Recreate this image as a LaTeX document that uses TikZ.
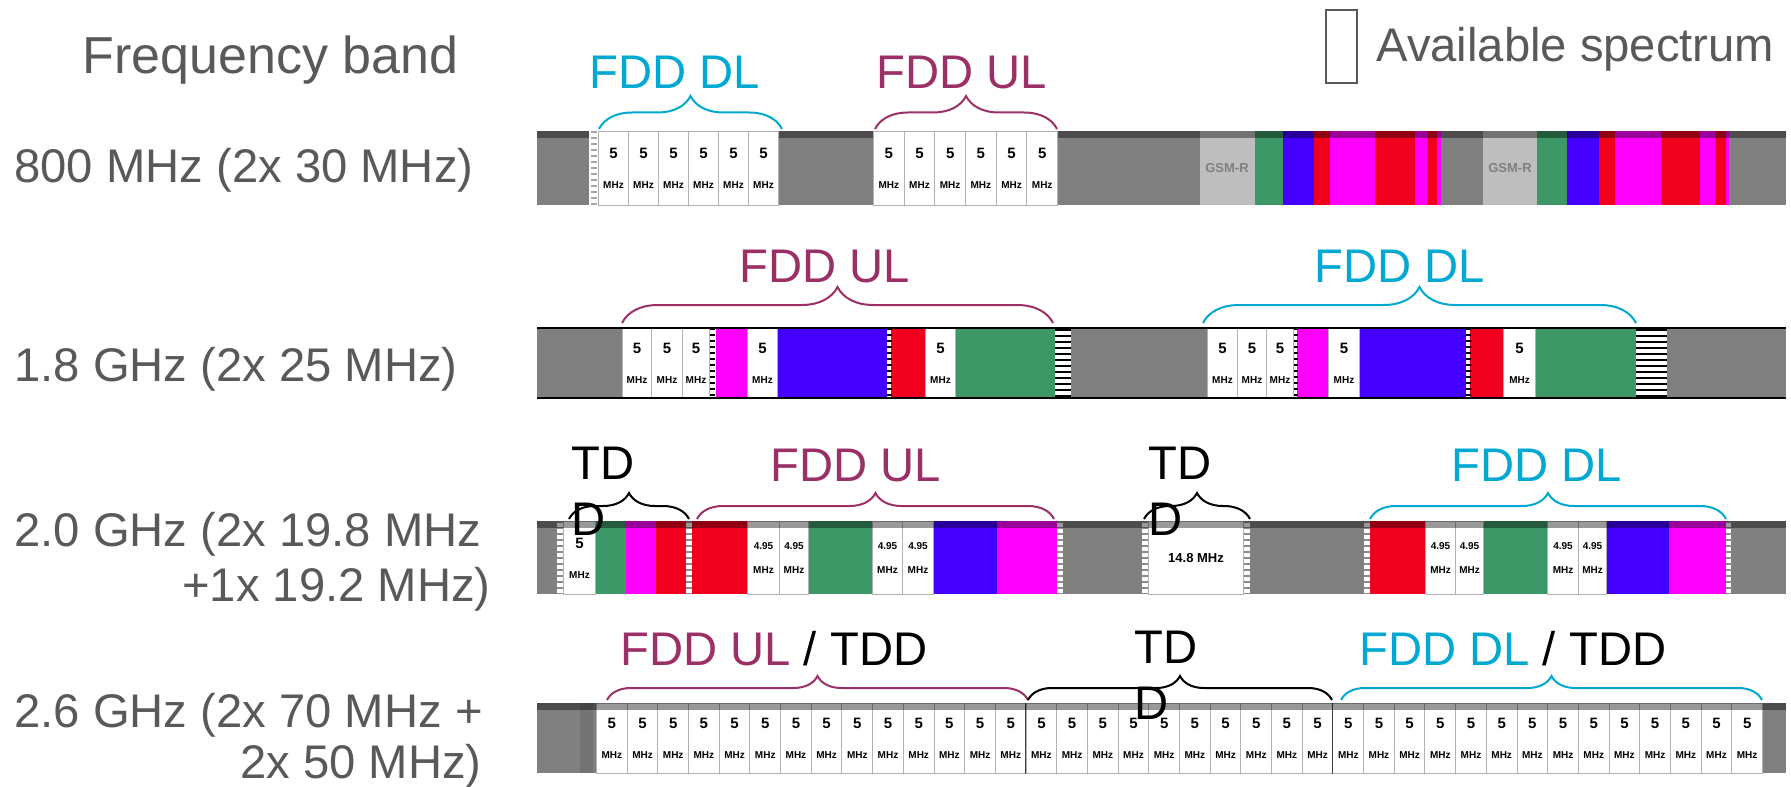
\documentclass[tikz,border=0pt]{standalone}
\usepackage{fontspec}
\setmainfont{Liberation Sans}
\usetikzlibrary{decorations.pathreplacing}
\colorlet{ctext}{black!65}
\definecolor{cdl}{RGB}{0,168,210}
\definecolor{cul}{RGB}{155,48,102}
\definecolor{cbar}{RGB}{128,128,128}
\definecolor{cgsm}{RGB}{190,190,190}
\definecolor{cgreen}{RGB}{60,152,102}
\definecolor{cblue}{RGB}{68,0,255}
\definecolor{cred}{RGB}{240,0,28}
\definecolor{cmag}{RGB}{255,0,255}
\newcommand{\mhz}[1]{{\fontsize{7.5}{8}\selectfont #1}\\[9pt]MHz}
\tikzset{
  bandlabel/.style={font=\fontsize{23.6}{28}\selectfont, text=ctext, anchor=base west, inner sep=0pt},
  blocklabel/.style={font=\fontsize{23.6}{28}\selectfont, text=#1, anchor=base, inner sep=0pt},
  tddlabel/.style={font=\fontsize{23.6}{28}\selectfont, align=left, inner sep=0pt},
  brace/.style={decorate, decoration={brace, amplitude=#1}, line width=1pt},
  cell/.style={draw=black!30, line width=0.5pt, fill=white, inner sep=0pt, anchor=north west,
               font=\fontsize{5}{6}\selectfont\bfseries, align=center},
  gsm/.style={font=\fontsize{6.5}{7}\selectfont\bfseries, text=black!50, inner sep=0pt},
  ticks/.style={line width=#1, dash pattern=on 0.8pt off 2.2pt},
  rim/.style={fill=black, fill opacity=0.4},
}
\begin{document}
\begin{tikzpicture}[x=0.5pt, y=-0.5pt]
\useasboundingbox (0,0) rectangle (1791,786);

\node[bandlabel, font=\fontsize{26}{30}\selectfont] (fband) at (82,74) {Frequency band};
\node[draw=ctext, line width=1pt, minimum width=15.5pt, minimum height=36.5pt, anchor=north west,
      inner sep=0pt] (legbox) at (1325,9) {};
\node[bandlabel] (legtext) at (1376,62) {Available spectrum};

\node[bandlabel] (b800) at (14,183) {800 MHz (2x 30 MHz)};
\node[bandlabel] (b1800) at (14,381) {1.8 GHz (2x 25 MHz)};
\node[bandlabel] (b2000) at (14,546) {2.0 GHz (2x 19.8 MHz};
\node[bandlabel, anchor=base east] (b2000b) at (491,601) {+1x 19.2 MHz)};
\node[bandlabel] (b2600) at (14,727) {2.6 GHz (2x 70 MHz +};
\node[bandlabel] (b2600b) at (240,778) {2x 50 MHz)};

% 800 MHz
\fill[cbar] (537,131) rectangle (1786,205);
\foreach \a/\b/\c in {1200/1255/cgsm, 1255/1283/cgreen, 1283/1314/cblue, 1314/1330/cred, 1330/1375/cmag,
    1375/1415/cred, 1415/1427/cmag, 1427/1437/cred, 1437/1441/cmag, 1483/1537/cgsm, 1537/1567/cgreen,
    1567/1599/cblue, 1599/1615/cred, 1615/1661/cmag, 1661/1700/cred, 1700/1715/cmag, 1715/1726/cred, 1726/1729/cmag}
  \fill[\c] (\a,131) rectangle (\b,205);
\fill[rim] (537,131) rectangle (1786,138);
\fill[white] (589,131) rectangle (598,205);
\draw[ticks=3pt, black!35] (593.5,131) -- (593.5,205);
\foreach \i in {0,...,5} {
  \node[cell, minimum width=15pt, minimum height=37pt] (c1a-\i) at ({598+30*\i},131) {\mhz{5}};
  \node[cell, minimum width=15.33pt, minimum height=37pt] (c1b-\i) at ({873+30.67*\i},131) {\mhz{5}};
}
\node[gsm] (gsm1) at (1227,168) {GSM-R};
\node[gsm] (gsm2) at (1510,168) {GSM-R};

% 1.8 GHz
\fill[cbar] (537,328) rectangle (1786,398);
\foreach \a/\b/\c in {716/747/cmag, 777/887/cblue, 891/925/cred, 955/1055/cgreen,
    1297/1328/cmag, 1359/1466/cblue, 1470/1503/cred, 1535/1636/cgreen}
  \fill[\c] (\a,328) rectangle (\b,398);
\foreach \a/\b in {709/716, 887/891, 1293/1297, 1466/1470} {
  \fill[white] (\a,328) rectangle (\b,398);
  \draw[ticks=2.5pt, black] ({(\a+\b)/2},328) -- ({(\a+\b)/2},398);
}
\foreach \a/\b in {1055/1071, 1636/1667} {
  \fill[white] (\a,328) rectangle (\b,398);
  \draw[line width={(\b-\a)*0.5pt}, dash pattern=on 1.2pt off 1.8pt] ({(\a+\b)/2},329) -- ({(\a+\b)/2},398);
}
\foreach \a/\b [count=\i] in {622/651, 651/682, 682/709, 747/777, 925/955, 1207/1237, 1237/1266, 1266/1293, 1328/1359, 1503/1535}
  \node[cell, minimum width={(\b-\a)*0.5pt}, minimum height=35pt] (c2-\i) at (\a,328) {\mhz{5}};
\draw[line width=1.2pt] (537,328) -- (1786,328) (537,398) -- (1786,398);

% 2.0 GHz
\fill[cbar] (537,521) rectangle (1786,594);
\foreach \a/\b/\c in {595/626/cgreen, 626/656/cmag, 656/686/cred, 692/747/cred, 808/872/cgreen, 933/997/cblue,
    997/1057/cmag, 1370/1425/cred, 1483/1547/cgreen, 1606/1669/cblue, 1669/1726/cmag}
  \fill[\c] (\a,521) rectangle (\b,594);
\foreach \a/\b in {557/563, 686/692, 1057/1063, 1142/1148, 1243/1250, 1364/1370, 1726/1731} {
  \fill[white] (\a,521) rectangle (\b,594);
  \draw[ticks=3pt, black!45] ({(\a+\b)/2},521) -- ({(\a+\b)/2},594);
}
\node[cell, minimum width=16pt, minimum height=36.5pt] (c3-0) at (563,521) {\mhz{5}};
\foreach \a/\b [count=\i] in {747/779, 779/808, 872/902, 902/933, 1425/1455, 1455/1483, 1547/1578, 1578/1606}
  \node[cell, minimum width={(\b-\a)*0.5pt}, minimum height=36.5pt] (c3-\i) at (\a,521) {4.95\\[6pt]MHz};
\node[cell, minimum width=47.5pt, minimum height=36.5pt, font=\fontsize{6.5}{7}\selectfont\bfseries]
  (c3-tdd) at (1148,521) {14.8 MHz};
\fill[rim] (537,521) rectangle (1786,528);

% 2.6 GHz
\fill[cbar] (537,703) rectangle (1786,773);
\fill[black!55] (580,703) rectangle (593,773);
\foreach \i in {0,...,37}
  \node[cell, minimum width=15.34pt, minimum height=35pt] (c4-\i) at ({596+30.684*\i},703) {\mhz{5}};
\draw[black!75, line width=0.8pt] (c4-14.north west) -- (c4-14.south west) (c4-24.north west) -- (c4-24.south west);
\fill[rim] (537,703) rectangle (1786,710);

% braces
\foreach \n/\a/\b/\y/\amp/\c in {r1dl/599/782/129/16.5pt/cdl, r1ul/875/1057/129/16.5pt/cul,
    r2ul/622/1053/323/18pt/cul, r2dl/1203/1636/323/18pt/cdl,
    r3tl/569/689/519/13pt/black, r3ul/697/1054/519/13pt/cul, r3tr/1144/1250/519/13pt/black, r3dl/1370/1726/519/13pt/cdl,
    r4ul/607/1028/700/12pt/cul, r4td/1028/1332/700/12pt/black, r4dl/1341/1762/700/12pt/cdl} {
  \coordinate (\n-a) at (\a,\y);
  \coordinate (\n-b) at (\b,\y);
  \draw[brace=\amp, \c] (\n-a) -- (\n-b);
}

\node[blocklabel=cdl] (t1dl) at (675,89) {FDD DL};
\node[blocklabel=cul] (t1ul) at (962,89) {FDD UL};
\node[blocklabel=cul] (t2ul) at (825,282) {FDD UL};
\node[blocklabel=cdl] (t2dl) at (1400,282) {FDD DL};
\node[tddlabel, anchor=north west] (t3tl) at (571,447) {TD\\D};
\node[blocklabel=cul] (t3ul) at (856,481) {FDD UL};
\node[tddlabel, anchor=north west] (t3tr) at (1148,447) {TD\\D};
\node[blocklabel=cdl] (t3dl) at (1537,481) {FDD DL};
\node[tddlabel, anchor=base west] (t4ul) at (620,665) {\textcolor{cul}{FDD UL} / TDD};
\node[tddlabel, anchor=north west] (t4td) at (1134,631) {TD\\D};
\node[tddlabel, anchor=base west] (t4dl) at (1359,665) {\textcolor{cdl}{FDD DL} / TDD};
\end{tikzpicture}
\end{document}
